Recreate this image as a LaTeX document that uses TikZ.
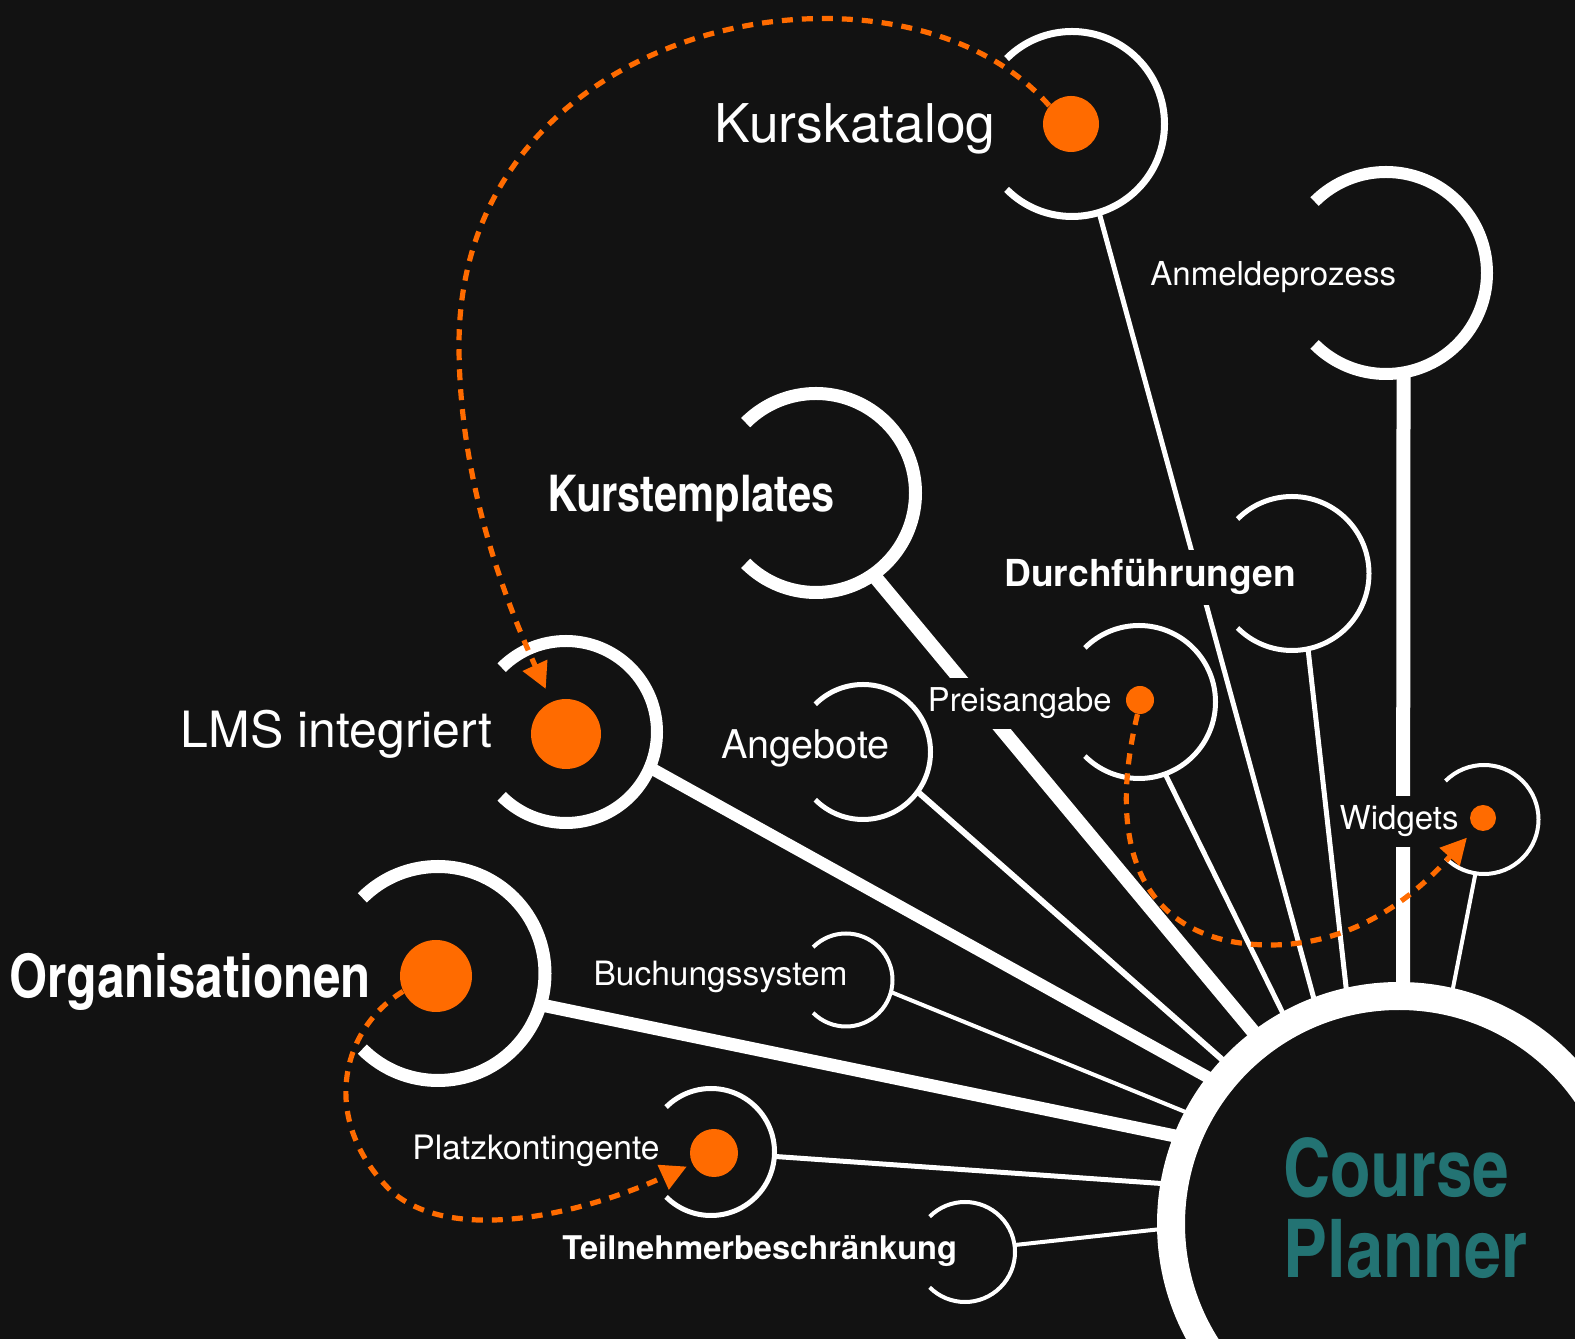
\documentclass[tikz,border=0pt]{standalone}
\usepackage{fontspec}
\setmainfont{TeX Gyre Heros}
\newfontfamily\cnfont{texgyreheroscn-bold.otf}
\usetikzlibrary{arrows.meta}
\definecolor{bg}{HTML}{121212}
\definecolor{accent}{HTML}{FF6B00}
\definecolor{cpteal}{HTML}{237373}
\tikzstyle{txt}=[text=white, inner sep=0pt]
\tikzstyle{txtbg}=[text=white, fill=bg, inner xsep=0pt, inner ysep=5pt]
\tikzstyle{flow}=[draw=accent, line width=2.6pt, dash pattern=on 5.5pt off 4.5pt, -{Triangle[length=13pt,width=13pt]}]
\tikzset{hub/.style={circle, inner sep=0pt, outer sep=0pt, minimum size=#1pt},
  spot/.style={circle, fill=accent, inner sep=0pt, minimum size=#1pt}}
\newcommand{\fsz}[1]{\fontsize{#1}{#1}\selectfont}
\newcommand{\hub}[1]{\node[hub=#1]}
\newcommand{\spot}[1]{\node[spot=#1]}
\newcommand{\ringarc}[3]{\draw[white, line width=#3] (#1.135) arc[start angle=135, end angle=-135, radius=#2];}

\begin{document}
\begin{tikzpicture}[x=0.5pt, y=0.5pt
  ,every edge/.style={draw=white}
]
\fill[bg] (0,0) rectangle (1575,1339);
\useasboundingbox (0,0) rectangle (1575,1339);
\hub{228} (cp) at (1399,115) {};
\hub{92.5} (kat) at (1072,1215) {};
\hub{101} (anm) at (1386,1066) {};
\hub{99.5} (tpl) at (816,846) {};
\hub{77} (dur) at (1292,765.5) {};
\hub{76.5} (pre) at (1139,637) {};
\hub{67.5} (ang) at (863,587) {};
\hub{91} (lms) at (566,607) {};
\hub{107} (org) at (438,365.5) {};
\hub{46.5} (buc) at (846,359) {};
\hub{54.5} (wid) at (1484,519.5) {};
\hub{63.5} (plk) at (711,187) {};
\hub{50} (tln) at (965,87) {};
\path
(kat.-73) edge[line width=2.5pt] (cp.111)
(anm.-80) edge[line width=7pt] (cp.89)
(wid.-99) edge[line width=2pt] (cp.77)
(dur.-78) edge[line width=2.5pt] (cp.103)
(pre.-70) edge[line width=2.5pt] (cp.119)
(tpl.-55) edge[line width=7pt] (cp.127)
(ang.-36) edge[line width=3pt] (cp.137)
(lms.-23) edge[line width=6pt] (cp.142)
(org.-17) edge[line width=6.5pt] (cp.158)
(buc.-15) edge[line width=2pt] (cp.152)
(plk.-4) edge[line width=2.5pt] (cp.170)
(tln.8) edge[line width=2pt] (cp.181)
;
\node[txt, anchor=base east, font=\fsz{26.7}] (lkat) at (996,1196) {Kurskatalog};
\node[txt, anchor=base east, font=\fsz{25}] (llms) at (493,591) {LMS integriert};
\node[txt, anchor=base east, font={\cnfont\fsz{25.3}}] (ltpl) at (835,827) {Kurstemplates};
\node[txt, anchor=base west, font={\cnfont\fsz{30}}] (lorg) at (9,341) {Organisationen};
\node[txt, anchor=base west, font=\fsz{16.5}] (lanm) at (1150,1053) {Anmeldeprozess};
\node[txtbg, anchor=base west, font=\bfseries\fsz{18.6}] (ldur) at (1004,752) {Durchführungen};
\node[txtbg, anchor=base east, font=\fsz{16.4}] (lpre) at (1112,627) {Preisangabe};
\node[txt, anchor=base east, font=\fsz{19.8}] (lang) at (890,580) {Angebote};
\node[txt, anchor=base east, font=\fsz{16.75}] (lbuc) at (848,353) {Buchungssystem};
\node[txt, anchor=base east, font=\fsz{16.8}] (lplk) at (660,179) {Platzkontingente};
\node[txt, anchor=base west, font=\bfseries\fsz{16.3}] (ltln) at (562,79) {Teilnehmerbeschränkung};
\node[txtbg, anchor=base east, font=\fsz{16.5}] (lwid) at (1459,509) {Widgets};
\ringarc{kat}{92.5}{3.5pt}
\ringarc{anm}{101}{6pt}
\ringarc{tpl}{99.5}{6.5pt}
\ringarc{dur}{77}{2.5pt}
\ringarc{pre}{76.5}{2.5pt}
\ringarc{ang}{67.5}{2.5pt}
\ringarc{lms}{91}{6pt}
\ringarc{org}{107}{6.5pt}
\ringarc{buc}{46.5}{2pt}
\ringarc{wid}{54.5}{2pt}
\ringarc{plk}{63.5}{2.5pt}
\ringarc{tln}{50}{2pt}
\draw[white, line width=14pt] (cp) circle[radius=228];
\spot{28} (katdot) at (1071,1215) {};
\spot{14} (predot) at (1140,639) {};
\spot{35} (lmsdot) at (566,605) {};
\spot{36} (orgdot) at (436,363) {};
\spot{13} (widdot) at (1483,521) {};
\spot{24} (plkdot) at (714,186) {};
\node[txt, text=cpteal, anchor=base west, font={\cnfont\fsz{40}}] (course) at (1283,142) {Course};
\node[txt, text=cpteal, anchor=base west, font={\cnfont\fsz{40.5}}] (planner) at (1283,61) {Planner};
\coordinate (w1) at (459,994);
\coordinate (w2) at (1270,394);
\coordinate (w3) at (390,149);
\draw[flow, shorten >=7pt] (katdot.140) .. controls (900,1404) and (459,1324) .. (w1)
  .. controls (459,859) and (505,739) .. (lmsdot.114);
\draw[flow, shorten >=6pt] (predot.-100) .. controls (1100,469) and (1160,394) .. (w2)
  .. controls (1360,394) and (1420,449) .. (widdot.-127);
\draw[flow, shorten >=3pt] (orgdot.-155) .. controls (340,309) and (320,219) .. (w3)
  .. controls (450,94) and (580,124) .. (plkdot.-153);
\end{tikzpicture}
\end{document}
